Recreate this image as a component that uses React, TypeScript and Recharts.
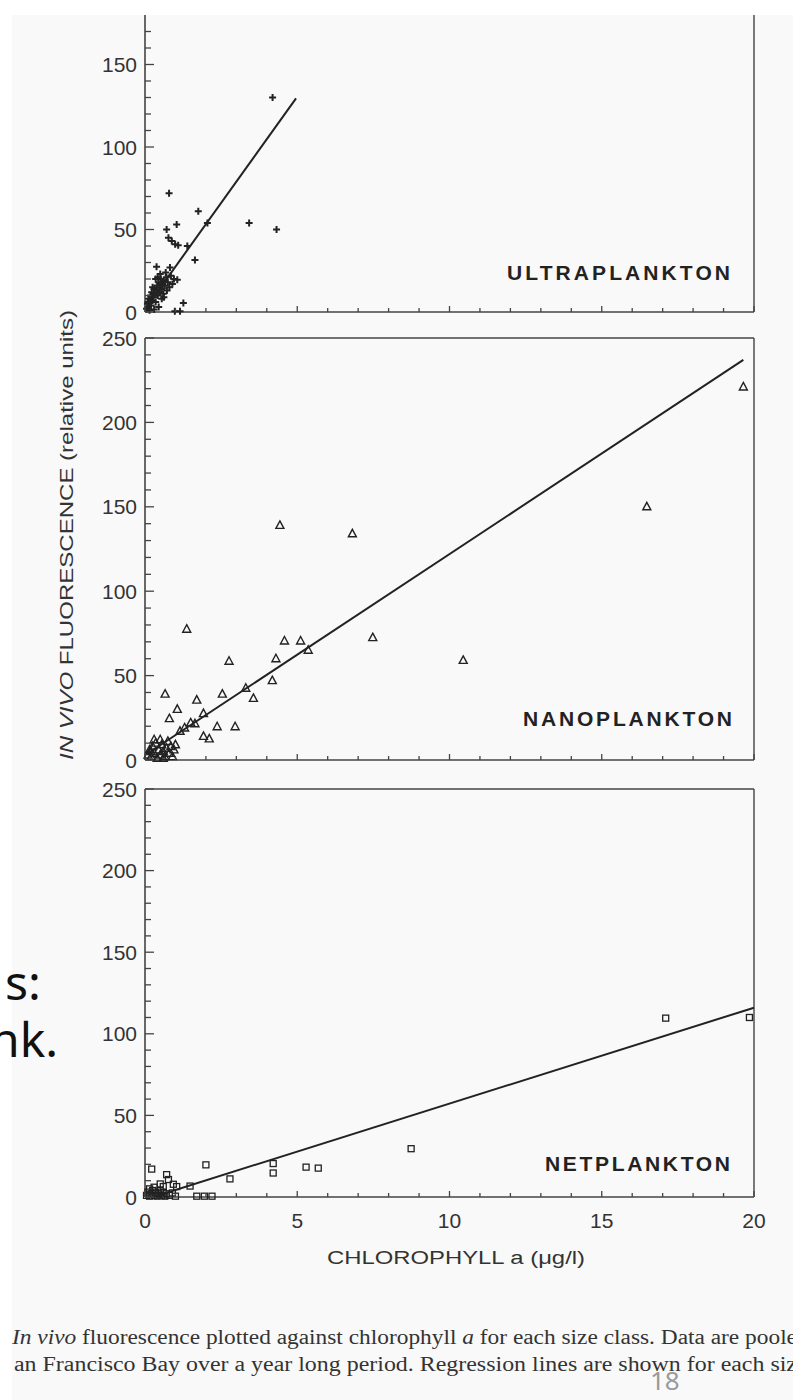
import { ScatterChart, Scatter, XAxis, YAxis, ReferenceLine } from 'recharts'

// chlorophyll a (ug/l) ticks, one per unit
const xTicks = [0, 1, 2, 3, 4, 5, 6, 7, 8, 9, 10, 11, 12, 13, 14, 15, 16, 17, 18, 19, 20]
const ultraTicks = [0, 10, 20, 30, 40, 50, 60, 70, 80, 90, 100, 110, 120, 130, 140, 150, 160, 170]
const panelTicks = [0, 10, 20, 30, 40, 50, 60, 70, 80, 90, 100, 110, 120, 130, 140, 150, 160, 170, 180, 190, 200, 210, 220, 230, 240, 250]

// [chl a, fluorescence]
const ultraPts = [
  [4.19, 130], [0.79, 72], [1.75, 61], [1.04, 53], [0.71, 50], [2.05, 54], [3.42, 54], [4.32, 50],
  [0.77, 45], [0.88, 43], [0.99, 41], [1.09, 40.5], [1.39, 40], [1.64, 31.5], [0.38, 27.5], [0.82, 27],
  [1.06, 19.5], [1.26, 5.5], [1.15, 0.5], [0.98, 0.5],
  [0.05, 2], [0.08, 5], [0.1, 3], [0.12, 8], [0.15, 6], [0.18, 10], [0.2, 4], [0.22, 12], [0.25, 7],
  [0.28, 9], [0.3, 14], [0.32, 11], [0.35, 6], [0.38, 13], [0.4, 16], [0.42, 10], [0.45, 18], [0.48, 12],
  [0.5, 15], [0.52, 20], [0.55, 14], [0.58, 17], [0.6, 11], [0.62, 19], [0.65, 16], [0.7, 21], [0.72, 13],
  [0.75, 18], [0.8, 15], [0.85, 22], [0.9, 17], [0.3, 1.5], [0.15, 1], [0.45, 3], [0.55, 8], [0.25, 15],
  [0.35, 20], [0.68, 24], [0.95, 20], [0.5, 23], [0.42, 21], [0.2, 9], [0.1, 6], [0.62, 9],
]
const nanoPts = [
  [19.65, 221], [16.48, 150], [10.45, 59], [4.43, 139], [6.81, 134], [1.37, 77.5], [7.48, 72.5],
  [4.58, 70.5], [5.11, 70.5], [5.36, 65], [4.3, 60], [2.76, 58.5], [4.18, 47], [3.31, 42.5], [3.56, 36.5],
  [2.54, 39], [1.7, 35.5], [0.66, 39], [1.06, 30], [0.8, 24.5], [1.64, 21.5], [1.92, 27.5], [2.37, 19.7],
  [2.96, 19.7], [1.92, 14], [2.11, 12.5], [1.15, 17], [1.5, 22], [1.3, 19],
  [0.1, 3], [0.15, 6], [0.2, 2], [0.25, 8], [0.3, 4], [0.35, 10], [0.4, 1], [0.45, 6], [0.5, 3], [0.55, 9],
  [0.6, 5], [0.65, 2], [0.7, 7], [0.75, 11], [0.8, 4], [0.85, 8], [0.9, 2], [0.95, 6], [1.0, 9], [0.3, 12],
  [0.5, 12], [0.2, 5], [0.6, 1],
]
const netPts = [
  [17.1, 109.6], [19.85, 110], [8.74, 29.6], [2.0, 19.7], [5.29, 18.3], [5.69, 17.7], [4.21, 14.7],
  [4.21, 20.5], [2.79, 11.1], [0.22, 17.1], [0.71, 13.7], [0.77, 10.7], [0.93, 7.8], [0.6, 6.4], [1.04, 6.4],
  [1.48, 6.7], [1.7, 0.5], [1.95, 0.5], [2.2, 0.5],
  [0.05, 1], [0.1, 3], [0.15, 0.5], [0.2, 2], [0.25, 4], [0.3, 1], [0.35, 3], [0.4, 0.5], [0.45, 2], [0.5, 4],
  [0.55, 1], [0.6, 3], [0.65, 0.5], [0.7, 2], [0.8, 1], [0.9, 2.5], [1.0, 0.5], [0.3, 6], [0.5, 8], [0.15, 5],
]

// regression line end points
const ultraFit = [[0.05, 3], [4.96, 129.5]]
const nanoFit = [[0.1, 4], [19.65, 237]]
const netFit = [[0.35, 0.5], [20, 116]]

const toXY = (pts: number[][]) => pts.map(([x, y]) => ({ x, y }))

const INK = '#222'
const AXIS = '#444'
const FONT = '"Liberation Sans", Arial, sans-serif'

function YTick(props: any) {
  const { x, y, payload } = props
  const v = payload.value
  const major = v % 50 === 0
  return (
    <g>
      <line x1={x} x2={x + (major ? 9 : 6)} y1={y} y2={y} stroke={AXIS} strokeWidth={1.3} />
      {major && (
        <text x={x - 8} y={y} textAnchor="end" dominantBaseline="central" fontSize={21} fontFamily={FONT} fill="#333">
          {v}
        </text>
      )}
    </g>
  )
}

function XTick(props: any) {
  const { x, y, payload, showLabel } = props
  const v = payload.value
  const major = v % 5 === 0
  return (
    <g>
      <line x1={x} x2={x} y1={y} y2={y - (major ? 6 : 4)} stroke={AXIS} strokeWidth={1.3} />
      {showLabel && major && (
        <text x={x} y={y + 23} textAnchor="middle" dominantBaseline="central" fontSize={21} fontFamily={FONT} fill="#333">
          {v}
        </text>
      )}
    </g>
  )
}

const Cross = (p: any) => (
  <path d={`M${p.cx - 3.5},${p.cy}h7M${p.cx},${p.cy - 3.5}v7`} stroke={INK} strokeWidth={2} />
)
const Tri = (p: any) => (
  <path d={`M${p.cx},${p.cy - 4.5}L${p.cx + 4},${p.cy + 3}L${p.cx - 4},${p.cy + 3}Z`} fill="none" stroke={INK} strokeWidth={1.4} />
)
const Sq = (p: any) => (
  <rect x={p.cx - 3} y={p.cy - 3} width={6} height={6} fill="none" stroke={INK} strokeWidth={1.3} />
)
const NoDot = () => <g />

interface PanelProps {
  top: number
  height: number
  marginTop: number
  marginBottom: number
  xHeight: number
  yMax: number
  yTicks: number[]
  pts: number[][]
  fit: number[][]
  shape: (p: any) => any
  topBorder: boolean
  xLabels: boolean
}

function Panel(p: PanelProps) {
  return (
    <div style={{ position: 'absolute', left: 0, top: p.top }}>
      <ScatterChart width={793} height={p.height} margin={{ top: p.marginTop, right: 39, bottom: p.marginBottom, left: 0 }}>
        <XAxis
          type="number" dataKey="x" domain={[0, 20]} ticks={xTicks} interval={0} height={p.xHeight}
          tickSize={0} tickMargin={0} tickLine={false} axisLine={{ stroke: AXIS, strokeWidth: 1.6 }}
          tick={(t: any) => <XTick {...t} showLabel={p.xLabels} />}
        />
        <YAxis
          type="number" dataKey="y" domain={[0, p.yMax]} ticks={p.yTicks} interval={0} width={145}
          tickSize={0} tickMargin={0} tickLine={false} axisLine={{ stroke: AXIS, strokeWidth: 1.6 }}
          tick={(t: any) => <YTick {...t} />}
        />
        <ReferenceLine x={20} stroke={AXIS} strokeWidth={1.4} />
        {p.topBorder && <ReferenceLine y={p.yMax} stroke={AXIS} strokeWidth={1.4} />}
        <Scatter data={toXY(p.fit)} line={{ stroke: INK, strokeWidth: 2 }} shape={NoDot} isAnimationActive={false} />
        <Scatter data={toXY(p.pts)} shape={p.shape} isAnimationActive={false} />
      </ScatterChart>
    </div>
  )
}

export default function App() {
  return (
    <div style={{ position: 'absolute', left: 0, top: 0, width: 793, height: 1400, background: '#fff', overflow: 'hidden' }}>
      <div style={{ position: 'absolute', left: 12, top: 15, width: 781, height: 1385, background: '#f9f9f9' }} />
      <Panel top={0} height={330} marginTop={15} marginBottom={8} xHeight={10} yMax={180} yTicks={ultraTicks}
        pts={ultraPts} fit={ultraFit} shape={Cross} topBorder={false} xLabels={false} />
      <Panel top={320} height={450} marginTop={18} marginBottom={0} xHeight={10} yMax={250} yTicks={panelTicks}
        pts={nanoPts} fit={nanoFit} shape={Tri} topBorder xLabels={false} />
      <Panel top={772} height={518} marginTop={17} marginBottom={21} xHeight={72} yMax={250} yTicks={panelTicks}
        pts={netPts} fit={netFit} shape={Sq} topBorder xLabels />
      <svg width={793} height={1400} style={{ position: 'absolute', left: 0, top: 0, pointerEvents: 'none' }}>
        <g fontFamily={FONT} fontWeight="bold" fontSize={21} fill="#222" textAnchor="end">
          <text x={730} y={280} textLength={223} lengthAdjust="spacing">ULTRAPLANKTON</text>
          <text x={732} y={726} textLength={209} lengthAdjust="spacing">NANOPLANKTON</text>
          <text x={730} y={1171} textLength={185} lengthAdjust="spacing">NETPLANKTON</text>
        </g>
        <text x={456} y={1264} textAnchor="middle" fontFamily={FONT} fontSize={18} fill="#333" textLength={258} lengthAdjust="spacingAndGlyphs">
          CHLOROPHYLL a (μg/l)
        </text>
        <text transform="rotate(-90 67 535)" x={67} y={535} textAnchor="middle" dominantBaseline="central"
          fontFamily={FONT} fontSize={18} fill="#333" textLength={450} lengthAdjust="spacingAndGlyphs">
          <tspan fontStyle="italic">IN VIVO</tspan> FLUORESCENCE  (relative units)
        </text>
        <g fontFamily='"Noto Sans", sans-serif' fontSize={48} fill="#111">
          <text x={5} y={1000}>s:</text>
          <text x={-10} y={1057}>nk.</text>
        </g>
        <g fontFamily='"Liberation Serif", "Times New Roman", serif' fontSize={20} fill="#333">
          <text x={12} y={1344} textLength={785} lengthAdjust="spacingAndGlyphs">
            <tspan fontStyle="italic">In vivo</tspan> fluorescence plotted against chlorophyll <tspan fontStyle="italic">a</tspan> for each size class. Data are poole
          </text>
          <text x={14} y={1371} textLength={783} lengthAdjust="spacingAndGlyphs">
            an Francisco Bay over a year long period. Regression lines are shown for each siz
          </text>
        </g>
        <text x={650} y={1390} fontFamily='"Noto Sans", sans-serif' fontSize={26} fill="#999">18</text>
      </svg>
    </div>
  )
}
